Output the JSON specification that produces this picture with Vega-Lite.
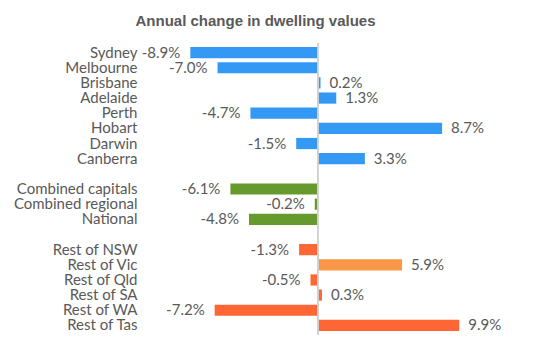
{
  "$schema": "https://vega.github.io/schema/vega-lite/v6.json",
  "autosize": {"type": "none"},
  "padding": {"left": 146, "top": 45, "right": 79, "bottom": 20},
  "width": 329,
  "height": 288,
  "background": "white",
  "config": {
    "view": {"stroke": null},
    "locale": {"number": {"decimal": ".", "thousands": ",", "grouping": [3], "currency": ["$", ""], "minus": "-"}},
    "font": "Lato"
  },
  "title": {
    "text": "Annual change in dwelling values",
    "font": "Liberation Sans",
    "fontSize": 15,
    "fontWeight": "bold",
    "color": "#595959",
    "anchor": "middle",
    "dx": -55,
    "offset": 14
  },
  "data": {
    "values": [
      {"region": "Sydney", "value": -0.089, "group": "Capital"},
      {"region": "Melbourne", "value": -0.070, "group": "Capital"},
      {"region": "Brisbane", "value": 0.002, "group": "Capital"},
      {"region": "Adelaide", "value": 0.013, "group": "Capital"},
      {"region": "Perth", "value": -0.047, "group": "Capital"},
      {"region": "Hobart", "value": 0.087, "group": "Capital"},
      {"region": "Darwin", "value": -0.015, "group": "Capital"},
      {"region": "Canberra", "value": 0.033, "group": "Capital"},
      {"region": "Combined capitals", "value": -0.061, "group": "Combined"},
      {"region": "Combined regional", "value": -0.002, "group": "Combined"},
      {"region": "National", "value": -0.048, "group": "Combined"},
      {"region": "Rest of NSW", "value": -0.013, "group": "Regional"},
      {"region": "Rest of Vic", "value": 0.059, "group": "Regional Vic"},
      {"region": "Rest of Qld", "value": -0.005, "group": "Regional"},
      {"region": "Rest of SA", "value": 0.003, "group": "Regional"},
      {"region": "Rest of WA", "value": -0.072, "group": "Regional"},
      {"region": "Rest of Tas", "value": 0.099, "group": "Regional"}
    ]
  },
  "encoding": {
    "y": {
      "field": "region",
      "type": "nominal",
      "scale": {
        "domain": ["Sydney", "Melbourne", "Brisbane", "Adelaide", "Perth", "Hobart", "Darwin", "Canberra", " ", "Combined capitals", "Combined regional", "National", "  ", "Rest of NSW", "Rest of Vic", "Rest of Qld", "Rest of SA", "Rest of WA", "Rest of Tas"],
        "paddingInner": 0.26,
        "paddingOuter": 0.13
      },
      "axis": {
        "title": null,
        "domain": false,
        "ticks": false,
        "labelPadding": 9,
        "labelFont": "Lato",
        "labelFontSize": 15,
        "labelColor": "#595959"
      }
    }
  },
  "layer": [
    {
      "mark": {"type": "bar"},
      "encoding": {
        "x": {
          "field": "value",
          "type": "quantitative",
          "scale": {"domain": [-0.12, 0.11], "nice": false, "zero": false},
          "axis": null
        },
        "color": {
          "field": "group",
          "type": "nominal",
          "scale": {
            "domain": ["Capital", "Combined", "Regional", "Regional Vic"],
            "range": ["#3399F5", "#679A2C", "#FE6633", "#F99748"]
          },
          "legend": null
        }
      }
    },
    {
      "mark": {"type": "rule", "color": "#D0D0D0", "strokeWidth": 1},
      "encoding": {"x": {"datum": 0}, "y": {"value": -2}, "y2": {"value": 290}}
    },
    {
      "transform": [{"filter": "datum.value < 0"}],
      "mark": {"type": "text", "align": "right", "baseline": "middle", "dx": -10, "fontSize": 15, "color": "#595959", "font": "Lato"},
      "encoding": {
        "x": {"field": "value", "type": "quantitative"},
        "text": {"field": "value", "type": "quantitative", "format": ".1%"}
      }
    },
    {
      "transform": [{"filter": "datum.value >= 0"}],
      "mark": {"type": "text", "align": "left", "baseline": "middle", "dx": 9, "fontSize": 15, "color": "#595959", "font": "Lato"},
      "encoding": {
        "x": {"field": "value", "type": "quantitative"},
        "text": {"field": "value", "type": "quantitative", "format": ".1%"}
      }
    }
  ]
}
